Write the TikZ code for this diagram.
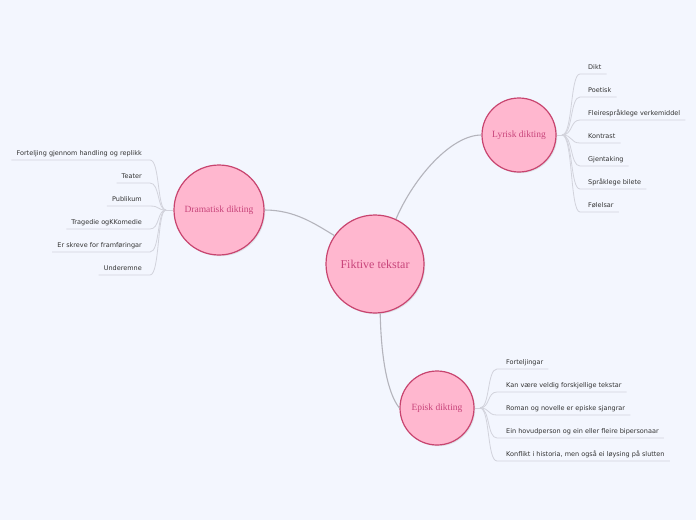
\documentclass[tikz,border=0pt]{standalone}
\usepackage{fontspec}
\setmainfont{Liberation Serif}
\newfontfamily\leaffont{DejaVu Sans}
\usetikzlibrary{calc,shadows}
\definecolor{bgc}{HTML}{F3F6FE}
\definecolor{circfill}{HTML}{FFB7CF}
\definecolor{circdraw}{HTML}{C8446F}
\definecolor{circtext}{HTML}{C8447A}
\definecolor{mainline}{HTML}{B4B4BC}
\definecolor{leafline}{HTML}{D2D3DC}
\definecolor{leaftext}{HTML}{333333}
\tikzset{
  topic/.style={circle, draw=circdraw, line width=1.2pt, fill=circfill, text=circtext, inner sep=0pt,
    drop shadow={opacity=0.18, shadow xshift=1.2pt, shadow yshift=-1.2pt}},
  maintopic/.style={topic, minimum size=98pt, font=\fontsize{12}{14}\selectfont},
  subtopic/.style={topic, font=\fontsize{9.5}{11}\selectfont},
  leaf/.style={inner sep=0pt, text=leaftext, font=\leaffont\fontsize{6.5}{8}\selectfont},
  mainconn/.style={draw=mainline, line width=1.1pt},
  leafconn/.style={draw=leafline, line width=0.8pt},
}
\begin{document}
\begin{tikzpicture}[x=1pt,y=-1pt]
\fill[bgc] (0,0) rectangle (696,520);
\useasboundingbox (0,0) rectangle (696,520);

% main topics
\node[subtopic, minimum size=74pt] (lyr) at (519,135) {Lyrisk dikting};
\node[subtopic, minimum size=90pt] (dra) at (219,210) {Dramatisk dikting};
\node[subtopic, minimum size=74pt] (epi) at (437,408) {Episk dikting};
\node[maintopic] (c) at (375,264) {Fiktive tekstar};

% main connectors
\draw[mainconn] (c.65) .. controls +(18,-42) and +(-30,0) .. (lyr.west);
\draw[mainconn] (dra.east) .. controls +(30,0) and +(-20,-12) .. (c.145);
\draw[mainconn] (c.-84) .. controls +(1,45) and +(-12,-15) .. (epi.west);

% hubs
\coordinate (lyrh) at (562,135);
\coordinate (drah) at (166,210);
\coordinate (epih) at (480,408);
\draw[leafconn] (lyr.east) -- (lyrh);
\draw[leafconn] (dra.west) -- (drah);
\draw[leafconn] (epi.east) -- (epih);

% Lyrisk leaves
\foreach \i/\t in {1/Dikt,2/Poetisk,3/Fleirespråklege verkemiddel,4/Kontrast,5/Gjentaking,6/Språklege bilete,7/Følelsar}{
  \pgfmathsetmacro{\yb}{69+23*(\i-1)}
  \node[leaf, anchor=base west] (ly\i) at (588,\yb) {\t};
  \coordinate (ly\i s) at (580,\yb+5);
  \coordinate (ly\i e) at ($(ly\i.base east)+(5,5)$);
  \draw[leafconn] (lyrh) .. controls +(11,0) and +(-10,0) .. (ly\i s) -- (ly\i e);
}

% Dramatisk leaves
\foreach \i/\t in {1/Forteljing gjennom handling og replikk,2/Teater,3/Publikum,4/Tragedie ogKKomedie,5/Er skreve for framføringar,6/Underemne}{
  \pgfmathsetmacro{\yb}{155+23*(\i-1)}
  \node[leaf, anchor=base east] (dr\i) at (142,\yb) {\t};
  \coordinate (dr\i s) at (150,\yb+5);
  \coordinate (dr\i e) at ($(dr\i.base west)+(-5,5)$);
  \draw[leafconn] (drah) .. controls +(-9,0) and +(10,0) .. (dr\i s) -- (dr\i e);
}

% Episk leaves
\foreach \i/\t in {1/Forteljingar,2/Kan være veldig forskjellige tekstar,3/Roman og novelle er episke sjangrar,4/Ein hovudperson og ein eller fleire bipersonaar,5/{Konflikt i historia, men også ei løysing på slutten}}{
  \pgfmathsetmacro{\yb}{364+23*(\i-1)}
  \node[leaf, anchor=base west] (ep\i) at (506,\yb) {\t};
  \coordinate (ep\i s) at (497,\yb+5);
  \coordinate (ep\i e) at ($(ep\i.base east)+(5,5)$);
  \draw[leafconn] (epih) .. controls +(10,0) and +(-10,0) .. (ep\i s) -- (ep\i e);
}
\end{tikzpicture}
\end{document}
